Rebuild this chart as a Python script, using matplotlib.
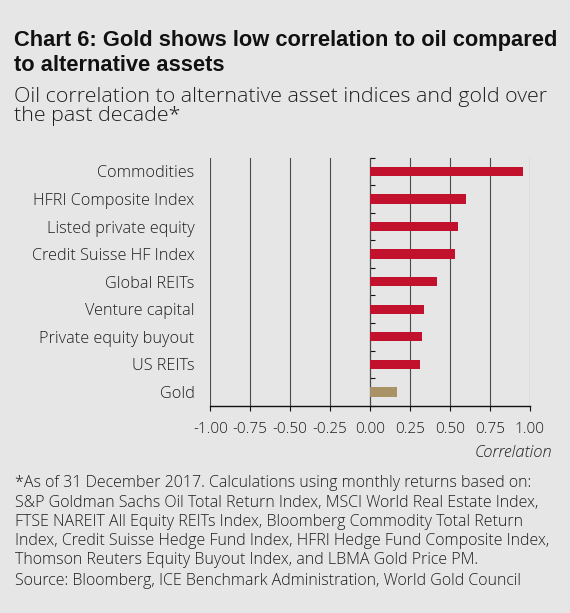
import matplotlib
matplotlib.use("Agg")
import matplotlib.pyplot as plt

# ---------------- data ----------------
categories = ["Commodities", "HFRI Composite Index", "Listed private equity",
              "Credit Suisse HF Index", "Global REITs", "Venture capital",
              "Private equity buyout", "US REITs", "Gold"]
values = [0.955, 0.598, 0.548, 0.533, 0.420, 0.341, 0.324, 0.310, 0.167]
xticks = [-1.0, -0.75, -0.5, -0.25, 0.0, 0.25, 0.5, 0.75, 1.0]
xtick_labels = ["-1.00", "-0.75", "-0.50", "-0.25", "0.00", "0.25", "0.50", "0.75", "1.00"]

title_lines = ["Chart 6: Gold shows low correlation to oil compared",
               "to alternative assets"]
subtitle_lines = ["Oil correlation to alternative asset indices and gold over",
                  "the past decade*"]
footnote_lines = [
    "*As of 31 December 2017. Calculations using monthly returns based on:",
    "S&P Goldman Sachs Oil Total Return Index, MSCI World Real Estate Index,",
    "FTSE NAREIT All Equity REITs Index, Bloomberg Commodity Total Return",
    "Index, Credit Suisse Hedge Fund Index, HFRI Hedge Fund Composite Index,",
    "Thomson Reuters Equity Buyout Index, and LBMA Gold Price PM.",
]
source_line = "Source: Bloomberg, ICE Benchmark Administration, World Gold Council"
xlabel = "Correlation"

# ---------------- style ----------------
BG = "#e6e6e6"
RED = "#c1112c"
GOLD = "#a89266"
TXT = "#1e1e1e"
FAM = ["Open Sans", "DejaVu Sans"]
TFAM = ["Liberation Sans", "DejaVu Sans"]
W, H = 570, 613

plt.rcParams["font.family"] = FAM

fig = plt.figure(figsize=(W / 100, H / 100), dpi=100, facecolor=BG)
renderer = fig.canvas.get_renderer()


def fy(px):
    return 1 - px / H


def fit(txt, target):
    for _ in range(3):
        w = txt.get_window_extent(renderer).width
        txt.set_fontsize(txt.get_fontsize() * target / w)
    return txt.get_fontsize()


def fit_size(s, target, **kw):
    t = fig.text(0, 0, s, fontsize=10, **kw)
    size = fit(t, target)
    t.remove()
    return size


left, right, top, bottom = 210.3, 529.7, 157.7, 405.7
ax = fig.add_axes([left / W, fy(bottom), (right - left) / W, (bottom - top) / H])
ax.set_facecolor(BG)

n = len(categories)
ypos = list(range(n))
colors = [GOLD if c == "Gold" else RED for c in categories]
ax.barh(ypos, values, height=0.34, color=colors, zorder=3)
ax.set_xlim(-1, 1)
ax.set_ylim(n - 0.5, -0.5)

for s in ["top", "right", "left"]:
    ax.spines[s].set_visible(False)
ax.spines["bottom"].set_color("#111111")
ax.spines["bottom"].set_linewidth(1.0)
ax.spines["bottom"].set_zorder(4)

ax.grid(axis="x", color="#4a4a4a", linewidth=0.8, zorder=1)
ax.set_axisbelow(True)

lab_size = fit_size("Credit Suisse HF Index", 162, fontweight="light")
tick_size = fit_size("0.25", 29.7, fontweight="light")

ax.set_yticks(ypos, labels=categories)
ax.tick_params(axis="y", length=0, pad=11.2, labelsize=lab_size, labelcolor=TXT)
for t in ax.get_yticklabels():
    t.set_fontweight("light")

ax.set_xticks(xticks, labels=xtick_labels)
ax.tick_params(axis="x", length=3.8, width=0.8, color="#111111", pad=8.0,
               labelsize=tick_size, labelcolor=TXT)
for t in ax.get_xticklabels():
    t.set_fontweight("light")

# vertical zero axis with category boundary ticks
sec = ax.secondary_yaxis(0.5)
sec.spines["left"].set_color("#111111")
sec.spines["left"].set_linewidth(1.0)
bounds = [k - 0.5 for k in range(n + 1)]
sec.set_yticks(bounds, labels=[""] * len(bounds))
sec.tick_params(axis="y", length=3.5, width=0.8, color="#111111", direction="out")

# x label
xl = fig.text(552 / W, fy(457), xlabel, ha="right", va="baseline",
              fontstyle="italic", fontweight="light", color=TXT)
fit(xl, 78)

# title
t1 = fig.text(14 / W, fy(46), title_lines[0], ha="left", va="baseline",
              fontweight="bold", color="#111111", family=TFAM)
tsize = fit(t1, 541)
fig.text(14 / W, fy(70.7), title_lines[1], ha="left", va="baseline",
         fontweight="bold", color="#111111", fontsize=tsize, family=TFAM)

# subtitle
s1 = fig.text(14 / W, fy(102), subtitle_lines[0], ha="left", va="baseline",
              fontweight="light", color=TXT)
ssize = fit(s1, 533)
fig.text(14 / W, fy(121.2), subtitle_lines[1], ha="left", va="baseline",
         fontweight="light", color=TXT, fontsize=ssize)

# footnotes
fsize = fit_size(footnote_lines[3], 541, fontweight="light")
for line, yb in zip(footnote_lines, [487.3, 506.6, 525.8, 545.0, 564.3]):
    fig.text(15 / W, fy(yb), line, ha="left", va="baseline", fontsize=fsize,
             fontweight="light", color=TXT)
fig.text(15 / W, fy(584.7), source_line, ha="left", va="baseline", fontsize=fsize,
         fontweight="light", color=TXT)

fig.savefig("out.png", dpi=100, facecolor=BG)
